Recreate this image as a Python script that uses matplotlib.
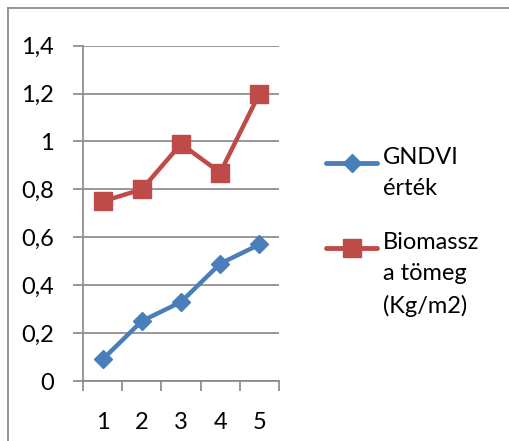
import matplotlib.pyplot as plt
from matplotlib.lines import Line2D
from matplotlib.ticker import FuncFormatter

# data
categories = [1, 2, 3, 4, 5]
gndvi = [0.09, 0.25, 0.33, 0.49, 0.57]
biomassza = [0.75, 0.80, 0.99, 0.87, 1.20]
gndvi_label = 'GNDVI\nérték'
biomassza_label = 'Biomassz\na tömeg\n(Kg/m2)'

blue = '#4A7EBB'
red = '#BE4B48'
grid = '#868686'

plt.rcParams['font.family'] = ['Lato', 'DejaVu Sans']
FS = 17

W, H = 509, 441
fig = plt.figure(figsize=(W / 100, H / 100), dpi=100)
ax = fig.add_axes([83 / W, 1 - 381 / H, (279 - 83) / W, (381 - 45.7) / H])

ax.plot(categories, gndvi, color=blue, lw=3.2, marker='D', ms=9.5,
        solid_joinstyle='round', solid_capstyle='round', label=gndvi_label)
ax.plot(categories, biomassza, color=red, lw=3.2, marker='s', ms=13,
        solid_joinstyle='round', solid_capstyle='round', label=biomassza_label)

ax.set_xlim(0.5, 5.5)
ax.set_ylim(0, 1.4)
ax.set_yticks([0, 0.2, 0.4, 0.6, 0.8, 1.0, 1.2, 1.4])
ax.yaxis.set_major_formatter(FuncFormatter(lambda v, p: f'{v:g}'.replace('.', ',')))
ax.set_xticks(categories)
ax.set_xticks([0.5, 1.5, 2.5, 3.5, 4.5, 5.5], minor=True)
ax.tick_params(axis='x', which='major', length=0, pad=22, labelsize=FS)
ax.tick_params(axis='x', which='minor', length=7, width=1.2, color=grid, direction='out')
ax.tick_params(axis='y', length=7, width=1.2, color=grid, labelsize=FS, pad=14)
ax.grid(axis='y', color=grid, lw=1.2)
ax.set_axisbelow(True)
for s in ['top', 'right']:
    ax.spines[s].set_visible(False)
for s in ['left', 'bottom']:
    ax.spines[s].set_color(grid)
    ax.spines[s].set_linewidth(1.2)

# legend drawn by hand to match Excel's wrapped labels
def legend_entry(y, color, marker, ms, text):
    fig.add_artist(Line2D([326 / W, 377 / W], [1 - y / H] * 2, color=color, lw=3.5,
                          solid_capstyle='round'))
    fig.add_artist(Line2D([351.5 / W], [1 - y / H], color=color, marker=marker, ms=ms, lw=0))
    fig.text(383 / W, 1 - (y - 16) / H, text, fontsize=FS, va='top', ha='left',
             linespacing=1.6)

legend_entry(163, blue, 'D', 9.5, gndvi_label)
legend_entry(248, red, 's', 13, biomassza_label)

# chart frame (only top and left edges visible)
fig.add_artist(Line2D([8 / W, 8 / W], [0, 1 - 7.5 / H], color='#8c8c8c', lw=1.3))
fig.add_artist(Line2D([8 / W, 1], [1 - 7.5 / H] * 2, color='#8c8c8c', lw=1.3))

fig.savefig('out.png', dpi=100)
